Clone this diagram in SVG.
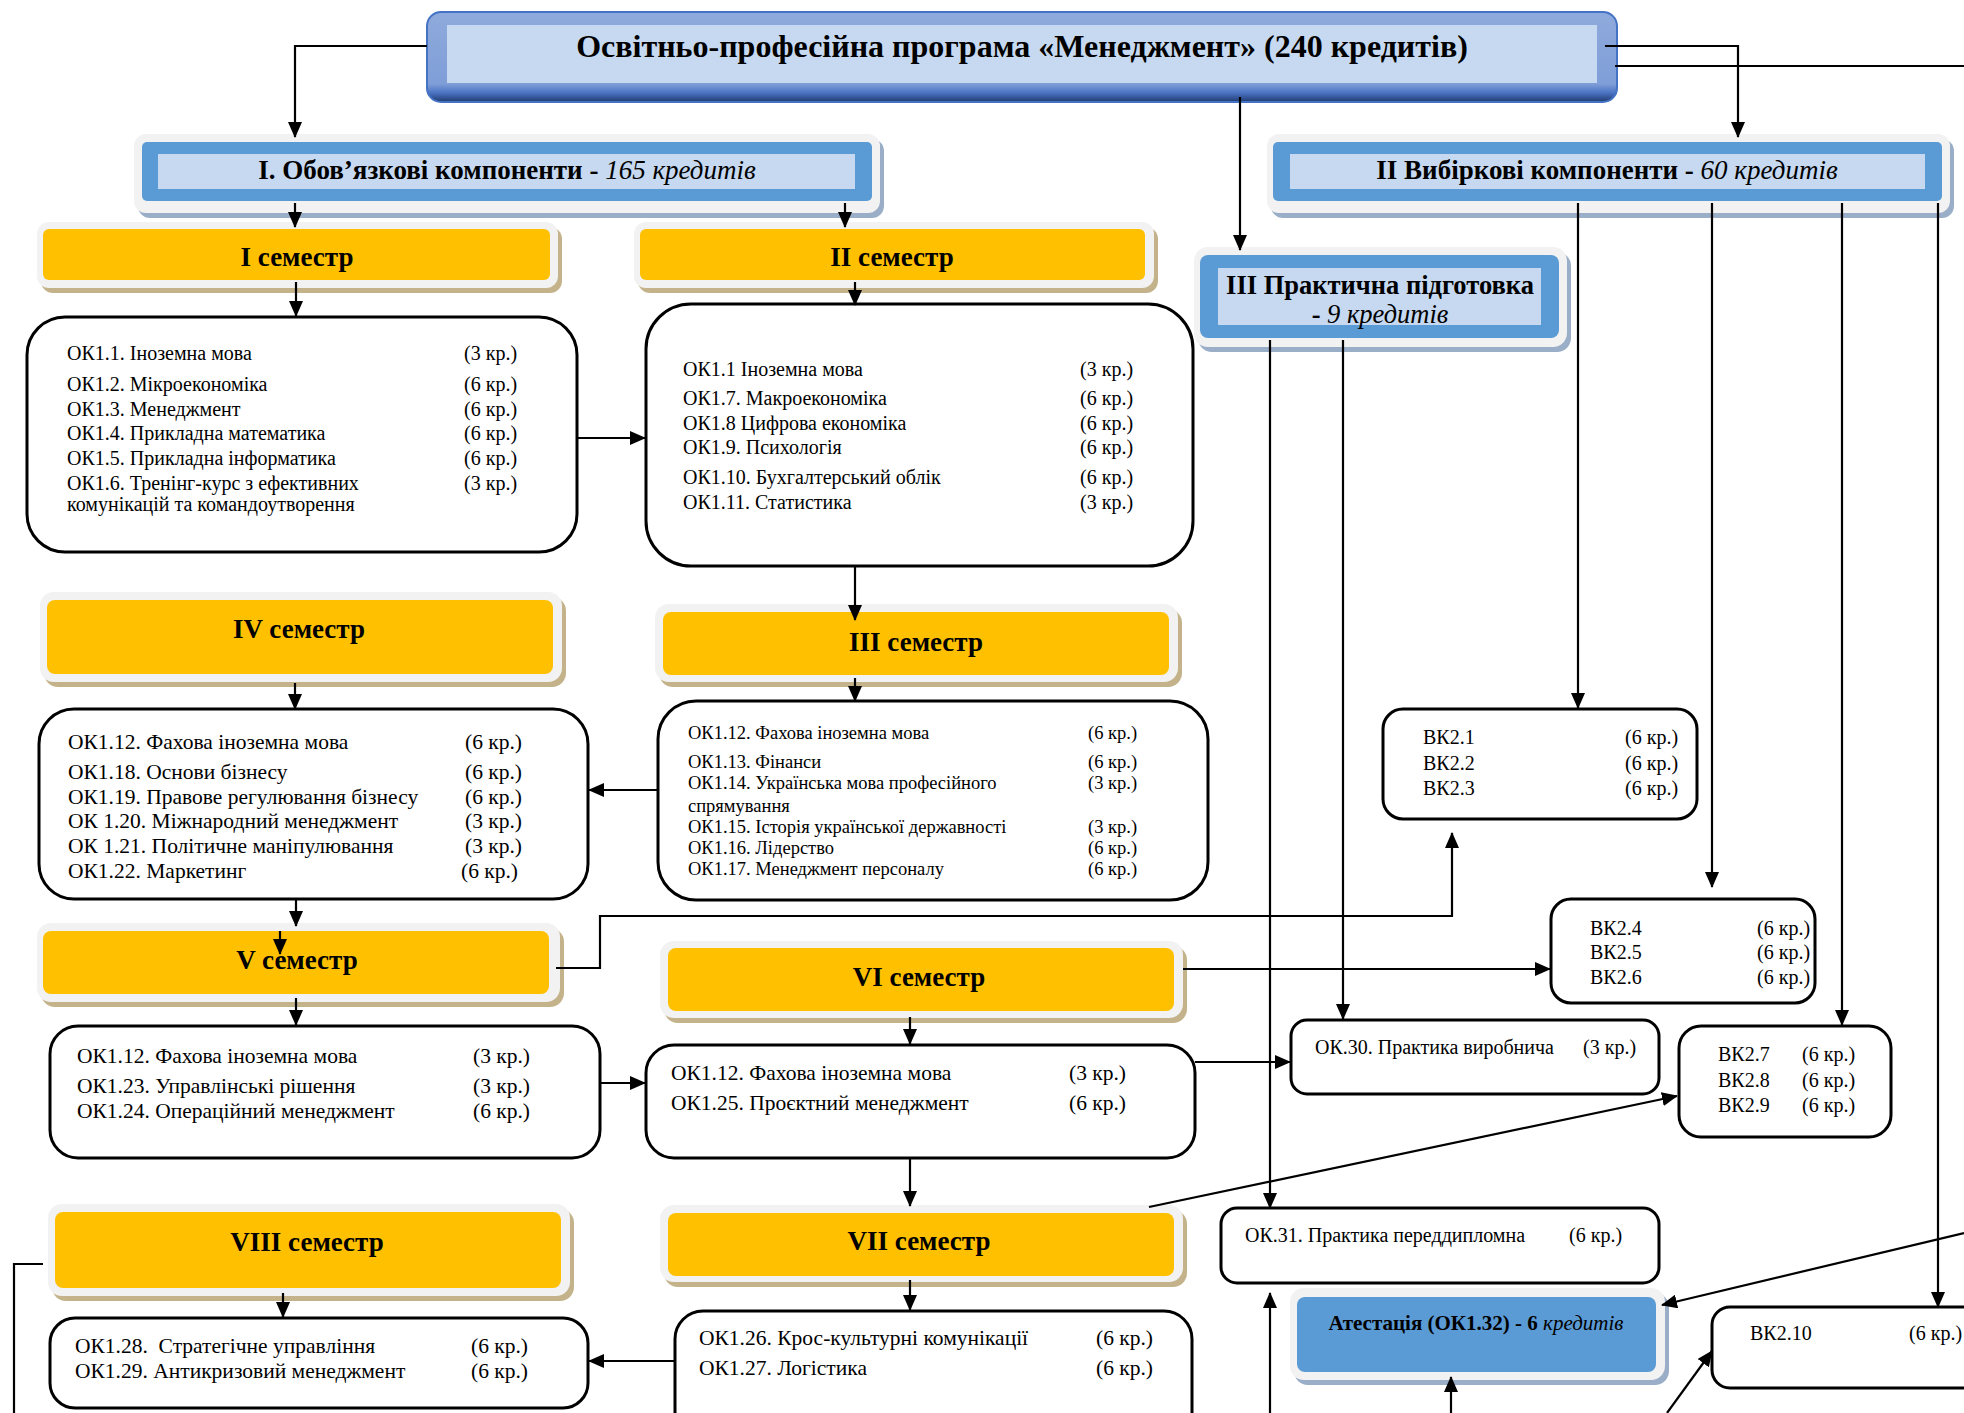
<svg xmlns="http://www.w3.org/2000/svg" width="1964" height="1413" viewBox="0 0 1964 1413">
<defs>
<linearGradient id="titleGrad" x1="0" y1="0" x2="0" y2="1">
<stop offset="0" stop-color="#8FAADC"/>
<stop offset="0.8" stop-color="#7F9ED8"/>
<stop offset="0.9" stop-color="#4A72C2"/>
<stop offset="1" stop-color="#1F3A6E"/>
</linearGradient>
<marker id="ah" markerUnits="userSpaceOnUse" markerWidth="16" markerHeight="14" refX="15" refY="7" orient="auto">
<path d="M0,0 L16,7 L0,14 z" fill="#000"/>
</marker>
<style>
text{font-family:"Liberation Serif","Times New Roman",serif;fill:#000}
.hd{font-weight:bold;font-size:27px;text-anchor:middle}
.it{font-style:italic;font-weight:normal}
.b{font-size:20px}
.b21{font-size:21.5px}
.b18{font-size:18.5px}
.box{fill:#fff;stroke:#000;stroke-width:3}
.shY{fill:#C4B38A}
.shB{fill:#9AAEC8}
.frm{fill:#F2F2F2}
.yel{fill:#FFC000}
.blu{fill:#5B9BD5}
.lt{fill:#C6D9F1}
.cn{fill:none;stroke:#000;stroke-width:2.2}
.ar{marker-end:url(#ah)}
</style>
</defs>

<g id="title">
<rect x="427" y="12" width="1190" height="90" rx="14" fill="url(#titleGrad)" stroke="#4472C4" stroke-width="2"/>
<rect x="447" y="25" width="1150" height="58" class="lt"/>
<text x="1022" y="57" class="hd" style="font-size:32px">Освітньо-професійна програма «Менеджмент» (240 кредитів)</text>
</g>

<g id="oblig">
<rect x="138" y="139" width="746" height="79" rx="12" class="shB"/>
<rect x="134" y="134" width="746" height="79" rx="12" class="frm"/>
<rect x="142" y="142" width="730" height="59" rx="5" class="blu"/>
<rect x="158" y="154" width="697" height="35" class="lt"/>
<text x="507" y="179" class="hd">I. Обов’язкові компоненти - <tspan class="it">165 кредитів</tspan></text>
</g>

<g id="elect">
<rect x="1271" y="139" width="683" height="79" rx="12" class="shB"/>
<rect x="1267" y="134" width="683" height="79" rx="12" class="frm"/>
<rect x="1273" y="142" width="669" height="59" rx="5" class="blu"/>
<rect x="1290" y="154" width="635" height="35" class="lt"/>
<text x="1607" y="179" class="hd">II Вибіркові компоненти - <tspan class="it">60 кредитів</tspan></text>
</g>

<g id="practice">
<rect x="1198" y="252" width="373" height="100" rx="14" class="shB"/>
<rect x="1194" y="247" width="373" height="100" rx="14" class="frm"/>
<rect x="1200" y="255" width="359" height="83" rx="8" class="blu"/>
<rect x="1218" y="268" width="323" height="57" class="lt"/>
<text x="1380" y="294" class="hd" style="font-size:26.5px">III Практична підготовка</text>
<text x="1380" y="323" class="hd" style="font-size:26.5px">- <tspan class="it">9 кредитів</tspan></text>
</g>

<g id="sem1">
<rect x="41" y="227" width="521" height="66" rx="12" class="shY"/>
<rect x="37" y="222" width="521" height="66" rx="12" class="frm"/>
<rect x="43" y="229" width="507" height="51" rx="6" class="yel"/>
<text x="297" y="266" class="hd">I семестр</text>
</g>
<g id="sem2">
<rect x="638" y="227" width="520" height="66" rx="12" class="shY"/>
<rect x="634" y="222" width="520" height="66" rx="12" class="frm"/>
<rect x="640" y="229" width="505" height="51" rx="6" class="yel"/>
<text x="892" y="266" class="hd">II семестр</text>
</g>
<g id="sem3">
<rect x="659" y="609" width="523" height="78" rx="14" class="shY"/>
<rect x="655" y="604" width="523" height="78" rx="14" class="frm"/>
<rect x="663" y="612" width="506" height="63" rx="8" class="yel"/>
<text x="916" y="651" class="hd">III семестр</text>
</g>
<g id="sem4">
<rect x="44" y="597" width="522" height="90" rx="14" class="shY"/>
<rect x="40" y="592" width="522" height="90" rx="14" class="frm"/>
<rect x="47" y="600" width="506" height="74" rx="8" class="yel"/>
<text x="299" y="638" class="hd">IV семестр</text>
</g>
<g id="sem5">
<rect x="41" y="928" width="523" height="79" rx="14" class="shY"/>
<rect x="37" y="923" width="523" height="79" rx="14" class="frm"/>
<rect x="43" y="931" width="506" height="63" rx="8" class="yel"/>
<text x="297" y="969" class="hd">V семестр</text>
</g>
<g id="sem6">
<rect x="664" y="946" width="523" height="77" rx="14" class="shY"/>
<rect x="660" y="941" width="523" height="77" rx="14" class="frm"/>
<rect x="668" y="948" width="506" height="63" rx="8" class="yel"/>
<text x="919" y="986" class="hd">VI семестр</text>
</g>
<g id="sem7">
<rect x="664" y="1210" width="523" height="77" rx="14" class="shY"/>
<rect x="660" y="1205" width="523" height="77" rx="14" class="frm"/>
<rect x="668" y="1213" width="506" height="63" rx="8" class="yel"/>
<text x="919" y="1250" class="hd">VII семестр</text>
</g>
<g id="sem8">
<rect x="52" y="1209" width="522" height="92" rx="14" class="shY"/>
<rect x="48" y="1204" width="522" height="92" rx="14" class="frm"/>
<rect x="55" y="1212" width="506" height="76" rx="8" class="yel"/>
<text x="307" y="1251" class="hd">VIII семестр</text>
</g>

<g id="box1" class="b">
<rect x="27" y="317" width="550" height="235" rx="38" class="box"/>
<text x="67" y="360">ОК1.1. Іноземна мова</text><text x="464" y="360">(3 кр.)</text>
<text x="67" y="391">ОК1.2. Мікроекономіка</text><text x="464" y="391">(6 кр.)</text>
<text x="67" y="416">ОК1.3. Менеджмент</text><text x="464" y="416">(6 кр.)</text>
<text x="67" y="440">ОК1.4. Прикладна математика</text><text x="464" y="440">(6 кр.)</text>
<text x="67" y="465">ОК1.5. Прикладна інформатика</text><text x="464" y="465">(6 кр.)</text>
<text x="67" y="490">ОК1.6. Тренінг-курс з ефективних</text><text x="464" y="490">(3 кр.)</text>
<text x="67" y="511">комунікацій та командоутворення</text>
</g>

<g id="box2" class="b">
<rect x="646" y="304" width="547" height="262" rx="45" class="box"/>
<text x="683" y="376">ОК1.1 Іноземна мова</text><text x="1080" y="376">(3 кр.)</text>
<text x="683" y="405">ОК1.7. Макроекономіка</text><text x="1080" y="405">(6 кр.)</text>
<text x="683" y="430">ОК1.8 Цифрова економіка</text><text x="1080" y="430">(6 кр.)</text>
<text x="683" y="454">ОК1.9. Психологія</text><text x="1080" y="454">(6 кр.)</text>
<text x="683" y="484">ОК1.10. Бухгалтерський облік</text><text x="1080" y="484">(6 кр.)</text>
<text x="683" y="509">ОК1.11. Статистика</text><text x="1080" y="509">(3 кр.)</text>
</g>

<g id="box3" class="b18">
<rect x="658" y="701" width="550" height="199" rx="38" class="box"/>
<text x="688" y="739">ОК1.12. Фахова іноземна мова</text><text x="1088" y="739">(6 кр.)</text>
<text x="688" y="768">ОК1.13. Фінанси</text><text x="1088" y="768">(6 кр.)</text>
<text x="688" y="789">ОК1.14. Українська мова професійного</text><text x="1088" y="789">(3 кр.)</text>
<text x="688" y="812">спрямування</text>
<text x="688" y="833">ОК1.15. Історія української державності</text><text x="1088" y="833">(3 кр.)</text>
<text x="688" y="854">ОК1.16. Лідерство</text><text x="1088" y="854">(6 кр.)</text>
<text x="688" y="875">ОК1.17. Менеджмент персоналу</text><text x="1088" y="875">(6 кр.)</text>
</g>

<g id="box4" class="b21">
<rect x="39" y="709" width="549" height="190" rx="35" class="box"/>
<text x="68" y="749">ОК1.12. Фахова іноземна мова</text><text x="465" y="749">(6 кр.)</text>
<text x="68" y="779">ОК1.18. Основи бізнесу</text><text x="465" y="779">(6 кр.)</text>
<text x="68" y="804">ОК1.19. Правове регулювання бізнесу</text><text x="465" y="804">(6 кр.)</text>
<text x="68" y="828">ОК 1.20. Міжнародний менеджмент</text><text x="465" y="828">(3 кр.)</text>
<text x="68" y="853">ОК 1.21. Політичне маніпулювання</text><text x="465" y="853">(3 кр.)</text>
<text x="68" y="878">ОК1.22. Маркетинг</text><text x="461" y="878">(6 кр.)</text>
</g>

<g id="box5" class="b21">
<rect x="50" y="1026" width="550" height="132" rx="28" class="box"/>
<text x="77" y="1063">ОК1.12. Фахова іноземна мова</text><text x="473" y="1063">(3 кр.)</text>
<text x="77" y="1093">ОК1.23. Управлінські рішення</text><text x="473" y="1093">(3 кр.)</text>
<text x="77" y="1118">ОК1.24. Операційний менеджмент</text><text x="473" y="1118">(6 кр.)</text>
</g>

<g id="box6" class="b21">
<rect x="646" y="1045" width="549" height="113" rx="28" class="box"/>
<text x="671" y="1080">ОК1.12. Фахова іноземна мова</text><text x="1069" y="1080">(3 кр.)</text>
<text x="671" y="1110">ОК1.25. Проєктний менеджмент</text><text x="1069" y="1110">(6 кр.)</text>
</g>

<g id="box7" class="b21">
<rect x="675" y="1311" width="517" height="140" rx="28" class="box"/>
<text x="699" y="1345">ОК1.26. Крос-культурні комунікації</text><text x="1096" y="1345">(6 кр.)</text>
<text x="699" y="1375">ОК1.27. Логістика</text><text x="1096" y="1375">(6 кр.)</text>
</g>

<g id="box8" class="b21">
<rect x="50" y="1318" width="538" height="90" rx="25" class="box"/>
<text x="75" y="1353" xml:space="preserve">ОК1.28.  Стратегічне управління</text><text x="471" y="1353">(6 кр.)</text>
<text x="75" y="1378">ОК1.29. Антикризовий менеджмент</text><text x="471" y="1378">(6 кр.)</text>
</g>

<g id="bk1" class="b">
<rect x="1383" y="709" width="314" height="110" rx="20" class="box"/>
<text x="1423" y="744">ВК2.1</text><text x="1625" y="744">(6 кр.)</text>
<text x="1423" y="770">ВК2.2</text><text x="1625" y="770">(6 кр.)</text>
<text x="1423" y="795">ВК2.3</text><text x="1625" y="795">(6 кр.)</text>
</g>

<g id="bk4" class="b">
<rect x="1551" y="899" width="264" height="104" rx="20" class="box"/>
<text x="1590" y="935">ВК2.4</text><text x="1757" y="935">(6 кр.)</text>
<text x="1590" y="959">ВК2.5</text><text x="1757" y="959">(6 кр.)</text>
<text x="1590" y="984">ВК2.6</text><text x="1757" y="984">(6 кр.)</text>
</g>

<g id="ok30" class="b">
<rect x="1291" y="1020" width="368" height="74" rx="16" class="box"/>
<text x="1315" y="1054">ОК.30. Практика виробнича</text><text x="1583" y="1054">(3 кр.)</text>
</g>

<g id="bk7" class="b">
<rect x="1679" y="1026" width="212" height="111" rx="22" class="box"/>
<text x="1718" y="1061">ВК2.7</text><text x="1802" y="1061">(6 кр.)</text>
<text x="1718" y="1087">ВК2.8</text><text x="1802" y="1087">(6 кр.)</text>
<text x="1718" y="1112">ВК2.9</text><text x="1802" y="1112">(6 кр.)</text>
</g>

<g id="ok31" class="b">
<rect x="1221" y="1208" width="438" height="75" rx="16" class="box"/>
<text x="1245" y="1242">ОК.31. Практика переддипломна</text><text x="1569" y="1242">(6 кр.)</text>
</g>

<g id="attest">
<rect x="1294" y="1293" width="375" height="92" rx="14" class="shB"/>
<rect x="1290" y="1288" width="375" height="92" rx="14" class="frm"/>
<rect x="1297" y="1297" width="359" height="75" rx="8" class="blu"/>
<text x="1476" y="1330" class="hd" style="font-size:21px">Атестація (ОК1.32) - 6 <tspan class="it">кредитів</tspan></text>
</g>

<g id="bk10" class="b">
<rect x="1712" y="1307" width="300" height="81" rx="18" class="box"/>
<text x="1750" y="1340">ВК2.10</text><text x="1909" y="1340">(6 кр.)</text>
</g>

<g id="connectors">
<path class="cn ar" d="M427,46 H295 V137"/>
<path class="cn ar" d="M1605,46 H1738 V137"/>
<path class="cn" d="M1615,66 H1964"/>
<path class="cn ar" d="M1240,97 V250"/>
<path class="cn ar" d="M295,203 V227"/>
<path class="cn ar" d="M845,203 V227"/>
<path class="cn ar" d="M296,282 V316"/>
<path class="cn ar" d="M855,282 V305"/>
<path class="cn ar" d="M577,438 H645"/>
<path class="cn ar" d="M855,566 V620"/>
<path class="cn ar" d="M855,678 V701"/>
<path class="cn ar" d="M658,790 H589"/>
<path class="cn ar" d="M295,683 V709"/>
<path class="cn ar" d="M296,899 V926"/>
<path class="cn ar" d="M280,931 V954"/>
<path class="cn ar" d="M296,998 V1025"/>
<path class="cn ar" d="M556,968 H600 V916 H1452 V833"/>
<path class="cn ar" d="M600,1083 H645"/>
<path class="cn ar" d="M1183,969 H1550"/>
<path class="cn ar" d="M910,1017 V1044"/>
<path class="cn ar" d="M1195,1062 H1290"/>
<path class="cn ar" d="M910,1158 V1206"/>
<path class="cn ar" d="M1149,1207 L1677,1096"/>
<path class="cn ar" d="M910,1280 V1310"/>
<path class="cn ar" d="M675,1361 H589"/>
<path class="cn" d="M43,1264 H14 V1413"/>
<path class="cn ar" d="M283,1293 V1317"/>
<path class="cn ar" d="M1270,340 V1208"/>
<path class="cn ar" d="M1343,340 V1019"/>
<path class="cn ar" d="M1578,203 V708"/>
<path class="cn ar" d="M1712,203 V887"/>
<path class="cn ar" d="M1842,203 V1025"/>
<path class="cn ar" d="M1938,203 V1307"/>
<path class="cn ar" d="M1270,1413 V1293"/>
<path class="cn ar" d="M1451,1413 V1377"/>
<path class="cn ar" d="M1964,1233 L1662,1305"/>
<path class="cn ar" d="M1667,1413 L1712,1351"/>
</g>
</svg>
